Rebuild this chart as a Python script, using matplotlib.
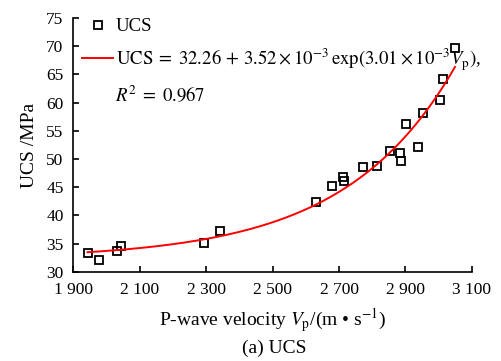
import numpy as np
import matplotlib
matplotlib.use("Agg")
import matplotlib.pyplot as plt
from matplotlib.ticker import FuncFormatter

plt.rcParams['font.family'] = ['Liberation Serif', 'DejaVu Serif']
plt.rcParams['mathtext.fontset'] = 'stix'

# data
vp = [1943, 1978, 2033, 2044, 2294, 2343, 2630, 2678, 2712, 2715, 2773,
      2813, 2853, 2883, 2886, 2903, 2938, 2953, 3003, 3012, 3049]
ucs = [33.3, 32.1, 33.7, 34.5, 35.2, 37.2, 42.3, 45.3, 46.8, 46.1, 48.5,
       48.8, 51.4, 51.0, 49.6, 56.2, 52.2, 58.1, 60.4, 64.2, 69.7]

# fit: UCS = a + b*exp(c*Vp)
a, b, c = 32.26, 3.52e-3, 3.01e-3
r2 = 0.967
v_fit = np.linspace(min(vp), max(vp), 200)
u_fit = a + b * np.exp(c * v_fit)

fig = plt.figure(figsize=(5.02, 3.61), dpi=100)
ax = fig.add_axes([0.146, 0.247, 0.794, 0.703])

ax.plot(vp, ucs, 's', markersize=5.5, markerfacecolor='none',
        markeredgecolor='k', markeredgewidth=1.3, label='UCS')
ax.plot(v_fit, u_fit, color='red', linewidth=1.4,
        label=r'$\mathrm{UCS}\;=\;32.26\,+\,3.52\times10^{-3}\,\exp(3.01\times10^{-3}V_{\mathrm{p}})$,')

ax.set_xlim(1900, 3100)
ax.set_ylim(30, 75)
ax.set_xticks(np.arange(1900, 3101, 200))
ax.set_yticks(np.arange(30, 76, 5))
ax.xaxis.set_major_formatter(FuncFormatter(lambda v, p: f"{int(v):,}".replace(",", " ")))

for s in ['top', 'right']:
    ax.spines[s].set_visible(False)
for s in ['left', 'bottom']:
    ax.spines[s].set_linewidth(1.2)
ax.tick_params(direction='in', length=4, width=1.2, labelsize=12.5)
ax.tick_params(axis='y', pad=7)
ax.tick_params(axis='x', pad=7)

ax.set_ylabel('UCS /MPa', fontsize=14, labelpad=6)
ax.set_xlabel(r'P-wave velocity $V_{\mathrm{p}}$/(m • s$^{-1}$)', fontsize=14, labelpad=6)
fig.text(0.547, 0.036, '(a) UCS', ha='center', va='center', fontsize=14)

ax.legend(loc='upper left', frameon=False, fontsize=13.5, handlelength=1.65,
          handletextpad=0.15, borderaxespad=0.0, borderpad=0.0, labelspacing=0.6,
          bbox_to_anchor=(0.022, 1.0))
ax.text(0.105, 0.696, rf'$R^2\;=\;{r2}$', transform=ax.transAxes,
        fontsize=13.5, va='center', ha='left')

fig.savefig('out.png', dpi=100)
